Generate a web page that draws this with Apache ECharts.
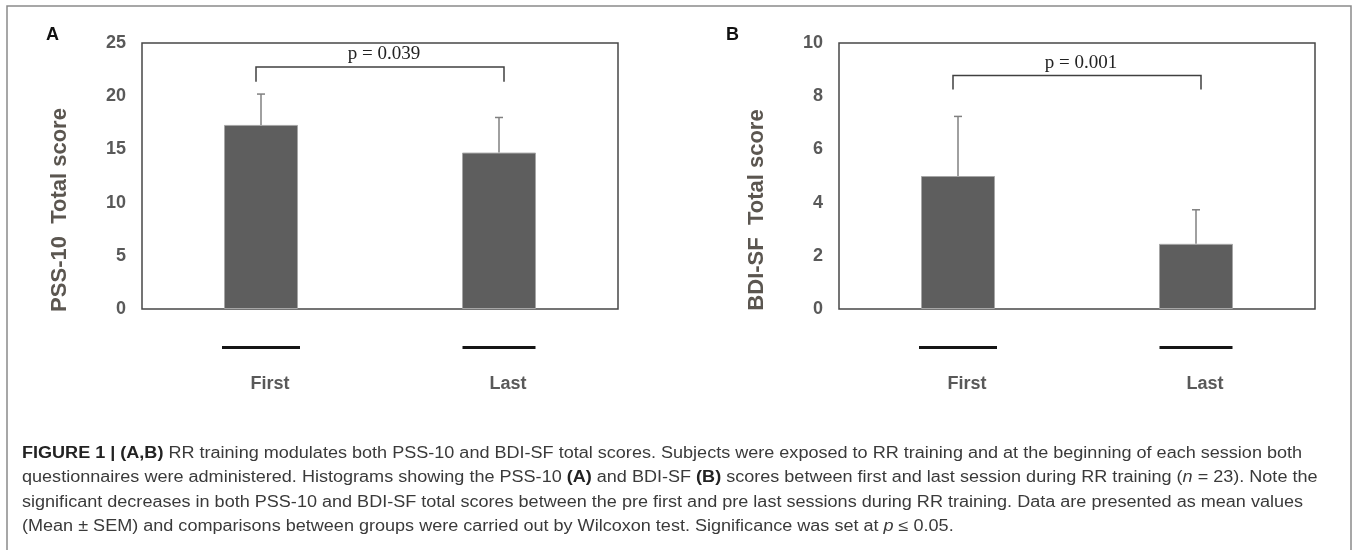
<!DOCTYPE html>
<html>
<head>
<meta charset="utf-8">
<script src="https://cdn.jsdelivr.net/npm/echarts@6.0.0/dist/echarts.min.js"></script>
<style>
  html, body { margin: 0; padding: 0; background: #fff; }
  #chart { width: 1357px; height: 550px; }
</style>
</head>
<body>
<div id="chart"></div>
<script>
// data
var sessions = ['First', 'Last'];
var pssMean = [17.3, 14.7];
var pssUpper = [20.2, 18.0];   // mean + SEM
var bdiMean = [5.0, 2.45];
var bdiUpper = [7.24, 3.73];
var pssTicks = { min: 0, max: 25, interval: 5 };
var bdiTicks = { min: 0, max: 10, interval: 2 };
var pLabels = ['p = 0.039', 'p = 0.001'];
var bracketTop = [22.75, 8.78];
var bracketDrop = [21.35, 8.25];

var chart = echarts.init(document.getElementById('chart'));

var tickFont = { color: '#595959', fontWeight: 'bold', fontSize: 18, fontFamily: 'Liberation Sans, Arial, sans-serif' };

function errData(mean, upper) {
  return mean.map(function (m, i) { return [i, m, upper[i]]; });
}

function errorBars(params, api) {
  var base = api.coord([api.value(0), api.value(1)]);
  var top = api.coord([api.value(0), api.value(2)]);
  var st = { stroke: '#808080', lineWidth: 1.5 };
  return {
    type: 'group',
    children: [
      { type: 'line', shape: { x1: base[0], y1: base[1], x2: top[0], y2: top[1] }, style: st },
      { type: 'line', shape: { x1: top[0] - 4, y1: top[1], x2: top[0] + 4, y2: top[1] }, style: st }
    ]
  };
}

function bracket(k) {
  return function (params, api) {
    var a = api.coord([0, bracketTop[k]]);
    var b = api.coord([1, bracketTop[k]]);
    var d = api.coord([0, bracketDrop[k]]);
    var x1 = a[0] - 5, x2 = b[0] + 5, y = a[1], yd = d[1];
    var st = { stroke: '#404040', lineWidth: 1.5, fill: 'none' };
    return {
      type: 'group',
      children: [
        { type: 'polyline', shape: { points: [[x1, yd], [x1, y], [x2, y], [x2, yd]] }, style: st },
        { type: 'text', x: (x1 + x2) / 2 + 4, y: y - 3,
          style: { text: pLabels[k], fill: '#222', fontSize: 19,
                   fontFamily: 'Liberation Serif, Times New Roman, serif',
                   align: 'center', verticalAlign: 'bottom' } }
      ]
    };
  };
}

function xLabels(v, i) {
  return '{l' + i + '| }\n{gap| }\n{name|' + v + '}';
}
var xRich = {
  l0: { width: 78, height: 3, lineHeight: 3, fontSize: 1, backgroundColor: '#151515' },
  l1: { width: 73, height: 3, lineHeight: 3, fontSize: 1, backgroundColor: '#151515' },
  gap: { height: 24, lineHeight: 24, fontSize: 1 },
  name: { color: '#595959', fontWeight: 'bold', fontSize: 18, lineHeight: 22,
          fontFamily: 'Liberation Sans, Arial, sans-serif', padding: [0, 0, 0, 18] }
};

function makeX(gi) {
  return {
    type: 'category', gridIndex: gi, data: sessions,
    axisLine: { show: false }, axisTick: { show: false },
    axisLabel: { margin: 37, formatter: xLabels, rich: xRich }
  };
}

function makeY(gi, t, name) {
  return {
    type: 'value', gridIndex: gi, min: t.min, max: t.max, interval: t.interval,
    splitLine: { show: false }, axisTick: { show: false }, axisLine: { show: false },
    axisLabel: Object.assign({ margin: 16 }, tickFont),
    name: name, nameLocation: 'middle', nameGap: 71, nameRotate: 90,
    nameTextStyle: { color: '#5b5650', fontWeight: 'bold', fontSize: 22,
                     fontFamily: 'Liberation Sans, Arial, sans-serif', padding: [0, 68, 0, 0] }
  };
}

var caption =
  '{b|FIGURE 1 | (A,B)} RR training modulates both PSS-10 and BDI-SF total scores. Subjects were exposed to RR training and at the beginning of each session both\n' +
  'questionnaires were administered. Histograms showing the PSS-10 {b|(A)} and BDI-SF {b|(B)} scores between first and last session during RR training ({i|n} = 23). Note the\n' +
  'significant decreases in both PSS-10 and BDI-SF total scores between the pre first and pre last sessions during RR training. Data are presented as mean values\n' +
  '(Mean \u00b1 SEM) and comparisons between groups were carried out by Wilcoxon test. Significance was set at {i|p} \u2264 0.05.';

var capFont = 'Liberation Sans, Arial, sans-serif';

chart.setOption({
  animation: false,
  title: [
    { text: 'A', left: 41, top: 21, textStyle: { fontSize: 18, fontWeight: 'bold', color: '#111', fontFamily: capFont } },
    { text: 'B', left: 721, top: 21, textStyle: { fontSize: 18, fontWeight: 'bold', color: '#111', fontFamily: capFont } }
  ],
  grid: [
    { left: 142, top: 43, width: 476, height: 266, show: true, borderColor: '#474747', borderWidth: 1.5, containLabel: false },
    { left: 839, top: 43, width: 476, height: 266, show: true, borderColor: '#474747', borderWidth: 1.5, containLabel: false }
  ],
  xAxis: [makeX(0), makeX(1)],
  yAxis: [makeY(0, pssTicks, 'PSS-10  Total score'), makeY(1, bdiTicks, 'BDI-SF  Total score')],
  series: [
    { type: 'bar', xAxisIndex: 0, yAxisIndex: 0, data: pssMean, barWidth: 74,
      itemStyle: { color: '#5e5e5e', borderColor: '#a6a6a6', borderWidth: 1 }, z: 2 },
    { type: 'custom', xAxisIndex: 0, yAxisIndex: 0, data: errData(pssMean, pssUpper), renderItem: errorBars, z: 3 },
    { type: 'custom', xAxisIndex: 0, yAxisIndex: 0, data: [[0]], renderItem: bracket(0), z: 3 },
    { type: 'bar', xAxisIndex: 1, yAxisIndex: 1, data: bdiMean, barWidth: 74,
      itemStyle: { color: '#5e5e5e', borderColor: '#a6a6a6', borderWidth: 1 }, z: 2 },
    { type: 'custom', xAxisIndex: 1, yAxisIndex: 1, data: errData(bdiMean, bdiUpper), renderItem: errorBars, z: 3 },
    { type: 'custom', xAxisIndex: 1, yAxisIndex: 1, data: [[0]], renderItem: bracket(1), z: 3 }
  ],
  graphic: [
    { type: 'rect', silent: true, shape: { x: 7, y: 6, width: 1344, height: 570 },
      style: { fill: 'none', stroke: '#8a8a8a', lineWidth: 1.5 } },
    { type: 'text', silent: true, x: 22, y: 441, scaleX: 1.128,
      style: { text: caption, fill: '#3a3a3a', fontSize: 16, lineHeight: 24.5, fontFamily: capFont,
               rich: { b: { fontWeight: 'bold', fill: '#222', fontSize: 16, fontFamily: capFont },
                       i: { fontStyle: 'italic', fontSize: 16, fontFamily: capFont } } } }
  ]
});
</script>
</body>
</html>
